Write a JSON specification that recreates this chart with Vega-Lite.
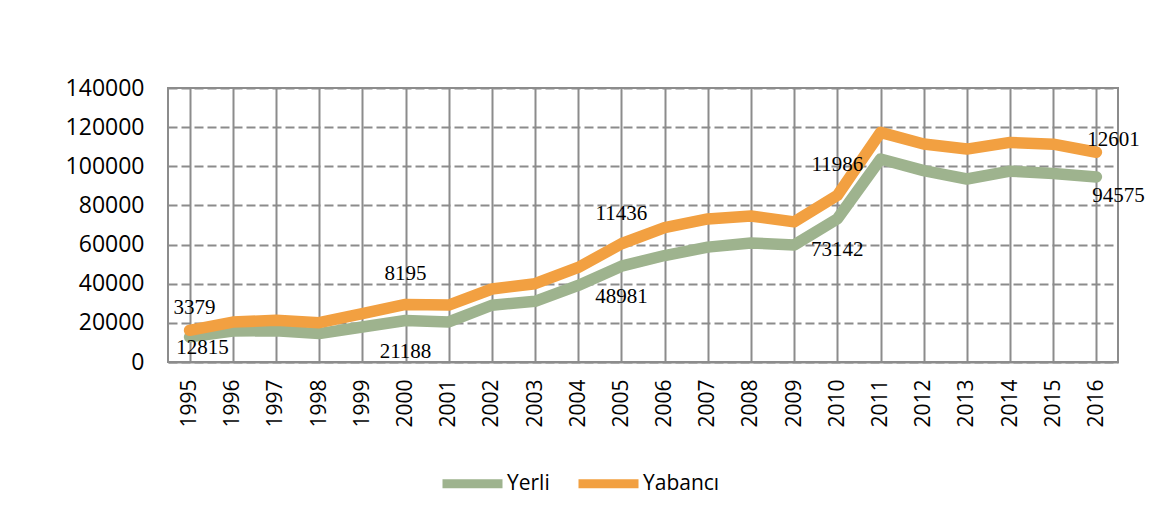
{
  "$schema": "https://vega.github.io/schema/vega-lite/v6.json",
  "autosize": {"type": "none"},
  "width": 950,
  "height": 274,
  "padding": {"left": 168, "top": 88, "right": 33, "bottom": 162},
  "background": "white",
  "config": {
    "view": {"stroke": "#8c8c8c", "strokeWidth": 2},
    "font": "Open Sans"
  },
  "data": {
    "values": [
      {"year": "1995", "series": "Yerli", "value": 12815},
      {"year": "1996", "series": "Yerli", "value": 15800},
      {"year": "1997", "series": "Yerli", "value": 16000},
      {"year": "1998", "series": "Yerli", "value": 14500},
      {"year": "1999", "series": "Yerli", "value": 17900},
      {"year": "2000", "series": "Yerli", "value": 21188},
      {"year": "2001", "series": "Yerli", "value": 20500},
      {"year": "2002", "series": "Yerli", "value": 29000},
      {"year": "2003", "series": "Yerli", "value": 31000},
      {"year": "2004", "series": "Yerli", "value": 39100},
      {"year": "2005", "series": "Yerli", "value": 48981},
      {"year": "2006", "series": "Yerli", "value": 54400},
      {"year": "2007", "series": "Yerli", "value": 58700},
      {"year": "2008", "series": "Yerli", "value": 60800},
      {"year": "2009", "series": "Yerli", "value": 59800},
      {"year": "2010", "series": "Yerli", "value": 73142},
      {"year": "2011", "series": "Yerli", "value": 103700},
      {"year": "2012", "series": "Yerli", "value": 97800},
      {"year": "2013", "series": "Yerli", "value": 93500},
      {"year": "2014", "series": "Yerli", "value": 97500},
      {"year": "2015", "series": "Yerli", "value": 96300},
      {"year": "2016", "series": "Yerli", "value": 94575},
      {"year": "1995", "series": "Yabancı", "value": 3379},
      {"year": "1996", "series": "Yabancı", "value": 4600},
      {"year": "1997", "series": "Yabancı", "value": 5300},
      {"year": "1998", "series": "Yabancı", "value": 5600},
      {"year": "1999", "series": "Yabancı", "value": 6800},
      {"year": "2000", "series": "Yabancı", "value": 8195},
      {"year": "2001", "series": "Yabancı", "value": 8600},
      {"year": "2002", "series": "Yabancı", "value": 8300},
      {"year": "2003", "series": "Yabancı", "value": 9000},
      {"year": "2004", "series": "Yabancı", "value": 9200},
      {"year": "2005", "series": "Yabancı", "value": 11436},
      {"year": "2006", "series": "Yabancı", "value": 14300},
      {"year": "2007", "series": "Yabancı", "value": 14400},
      {"year": "2008", "series": "Yabancı", "value": 13800},
      {"year": "2009", "series": "Yabancı", "value": 11800},
      {"year": "2010", "series": "Yabancı", "value": 11986},
      {"year": "2011", "series": "Yabancı", "value": 13600},
      {"year": "2012", "series": "Yabancı", "value": 13600},
      {"year": "2013", "series": "Yabancı", "value": 15300},
      {"year": "2014", "series": "Yabancı", "value": 14700},
      {"year": "2015", "series": "Yabancı", "value": 15000},
      {"year": "2016", "series": "Yabancı", "value": 12601}
    ]
  },
  "transform": [
    {"stack": "value", "groupby": ["year"], "sort": [{"field": "series", "order": "descending"}], "as": ["y0", "y1"]}
  ],
  "encoding": {
    "x": {
      "field": "year", "type": "ordinal", "title": null,
      "scale": {"paddingInner": 0, "paddingOuter": 0},
      "axis": {
        "labelAngle": 270, "labelFontSize": 21, "labelColor": "black", "labelPadding": 17,
        "ticks": false, "tickSize": 0, "grid": true, "bandPosition": 0,
        "gridColor": "#8c8c8c", "gridWidth": 2,
        "domainColor": "#8c8c8c", "domainWidth": 2
      }
    },
    "y": {
      "field": "y1", "type": "quantitative", "title": null,
      "scale": {"domain": [0, 140000], "nice": false},
      "axis": {
        "values": [0, 20000, 40000, 60000, 80000, 100000, 120000, 140000],
        "format": "d", "labelFontSize": 23, "labelColor": "black", "labelPadding": 24,
        "ticks": false, "tickSize": 0, "domain": false,
        "grid": true, "gridColor": "#8c8c8c", "gridWidth": 2, "gridDash": [9, 4]
      }
    }
  },
  "layer": [
    {
      "transform": [{"filter": "datum.series == 'Yerli'"}],
      "mark": {"type": "line", "strokeWidth": 11.5, "strokeCap": "round", "strokeJoin": "round"},
      "encoding": {
        "color": {
          "field": "series", "type": "nominal", "title": null,
          "scale": {"domain": ["Yerli", "Yabancı"], "range": ["#9EB38E", "#F2A041"]},
          "legend": {
            "orient": "none", "legendX": 270, "legendY": 361, "direction": "horizontal",
            "symbolType": "stroke", "symbolSize": 3600, "symbolStrokeWidth": 9,
            "labelFontSize": 21, "labelColor": "black", "labelOffset": 0,
            "columnPadding": 10
          }
        }
      }
    },
    {
      "transform": [{"filter": "datum.series == 'Yabancı'"}],
      "mark": {"type": "line", "strokeWidth": 11.5, "strokeCap": "round", "strokeJoin": "round"},
      "encoding": {
        "color": {"field": "series", "type": "nominal", "title": null}
      }
    },
    {
      "transform": [{"filter": "datum.series == 'Yerli' && (datum.year == '2000' || datum.year == '2005' || datum.year == '2010')"}],
      "mark": {"type": "text", "font": "Liberation Serif", "fontSize": 21, "color": "black", "dy": 31},
      "encoding": {"text": {"field": "value", "type": "quantitative", "format": "d"}}
    },
    {
      "transform": [{"filter": "datum.series == 'Yabancı' && (datum.year == '2000' || datum.year == '2005' || datum.year == '2010')"}],
      "mark": {"type": "text", "font": "Liberation Serif", "fontSize": 21, "color": "black", "dy": -30},
      "encoding": {"text": {"field": "value", "type": "quantitative", "format": "d"}}
    },
    {
      "transform": [{"filter": "datum.series == 'Yerli' && datum.year == '1995'"}],
      "mark": {"type": "text", "font": "Liberation Serif", "fontSize": 21, "color": "black", "dx": 13, "dy": 11},
      "encoding": {"text": {"field": "value", "type": "quantitative", "format": "d"}}
    },
    {
      "transform": [{"filter": "datum.series == 'Yabancı' && datum.year == '1995'"}],
      "mark": {"type": "text", "font": "Liberation Serif", "fontSize": 21, "color": "black", "dx": 5, "dy": -22},
      "encoding": {"text": {"field": "value", "type": "quantitative", "format": "d"}}
    },
    {
      "transform": [{"filter": "datum.series == 'Yerli' && datum.year == '2016'"}],
      "mark": {"type": "text", "font": "Liberation Serif", "fontSize": 21, "color": "black", "dx": 22, "dy": 19},
      "encoding": {"text": {"field": "value", "type": "quantitative", "format": "d"}}
    },
    {
      "transform": [{"filter": "datum.series == 'Yabancı' && datum.year == '2016'"}],
      "mark": {"type": "text", "font": "Liberation Serif", "fontSize": 21, "color": "black", "dx": 17, "dy": -12},
      "encoding": {"text": {"field": "value", "type": "quantitative", "format": "d"}}
    }
  ]
}
